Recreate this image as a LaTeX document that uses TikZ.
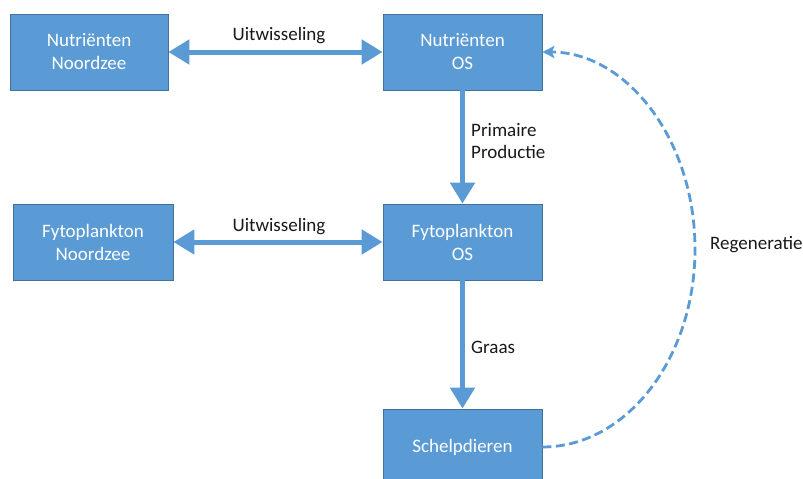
\documentclass[tikz,border=0pt]{standalone}
\usepackage{fontspec}
\setmainfont{Carlito}
\usetikzlibrary{arrows.meta}
\definecolor{boxblue}{HTML}{5B9BD5}
\definecolor{boxedge}{HTML}{41719C}
\begin{document}
\begin{tikzpicture}[x=1pt,y=-1pt,
  flowbox/.style={rectangle, fill=boxblue, draw=boxedge, line width=0.8pt,
    minimum height=76pt, inner sep=0pt, align=center, text=white,
    font=\fontsize{19}{23}\selectfont},
  flowlabel/.style={text=black!90, font=\fontsize{19}{22}\selectfont, inner sep=0pt},
  solidarrow/.style={draw=boxblue, line width=5pt,
    -{Triangle[length=21pt,width=24pt]}},
  bothsarrow/.style={draw=boxblue, line width=5pt,
    {Triangle[length=21pt,width=24pt]}-{Triangle[length=21pt,width=24pt]}},
  dasharrow/.style={draw=boxblue, line width=2.8pt, dash pattern=on 9pt off 4.5pt,
    -{Stealth[length=12pt,width=12pt,inset=2.5pt]}}
]
\useasboundingbox[fill=white] (0,0) rectangle (803,479);

\node[flowbox, minimum width=158pt] (nn) at (89,52) {Nutriënten\\Noordzee};
\node[flowbox, minimum width=159pt] (nos) at (462.5,52) {Nutriënten\\OS};
\node[flowbox, minimum width=160pt] (fn) at (93,242) {Fytoplankton\\Noordzee};
\node[flowbox, minimum width=159pt] (fos) at (462.5,242) {Fytoplankton\\OS};
\node[flowbox, minimum width=159pt] (sd) at (462.5,447) {Schelpdieren};

\draw[bothsarrow] (nn.east) -- (nos.west);
\draw[bothsarrow] (fn.east) -- (fos.west);
\draw[solidarrow] (nos.south) -- (fos.north);
\draw[solidarrow] (fos.south) -- (sd.north);

\coordinate (rr) at (695,249);
\draw[dasharrow] (sd.east) .. controls (626.5,447) and (695,358.4) .. (rr)
  .. controls (695,139.6) and (626.5,52) .. (nos.east);

\node[flowlabel] (u1) at (279,36) {Uitwisseling};
\node[flowlabel] (u2) at (279,227) {Uitwisseling};
\node[flowlabel, anchor=west, align=left] (pp) at (471,141) {Primaire\\Productie};
\node[flowlabel, anchor=west] (gr) at (471,347) {Graas};
\node[flowlabel, anchor=west] (rg) at (710,245) {Regeneratie};
\end{tikzpicture}
\end{document}
